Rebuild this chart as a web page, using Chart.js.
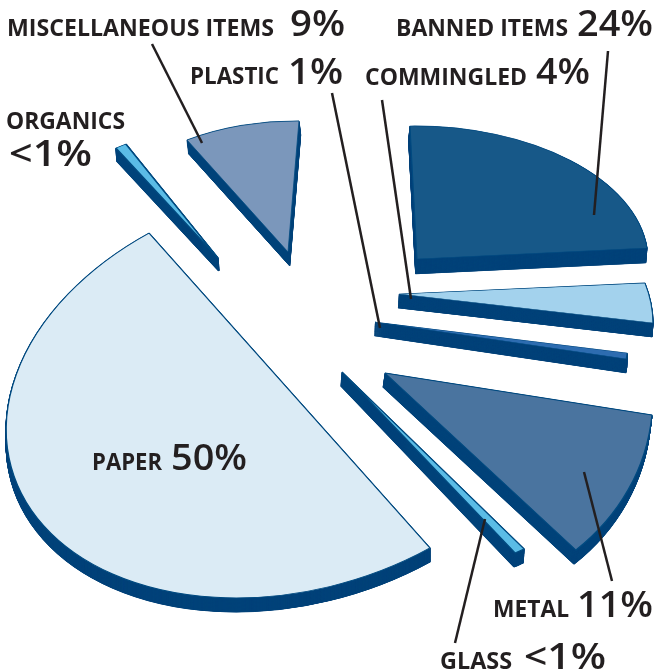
<!DOCTYPE html>
<html>
<head>
<meta charset="utf-8">
<script src="https://cdn.jsdelivr.net/npm/chart.js@4"></script>
<style>
	html, body { margin: 0; padding: 0; background: #fff; }
	canvas { display: block; }
</style>
</head>
<body>
<canvas id="myPie" width="656" height="672"></canvas>
<script>
// clockwise from the top, <1% slices read as 0.5
var categories = ['BANNED ITEMS', 'COMMINGLED', 'PLASTIC', 'METAL', 'GLASS', 'PAPER', 'ORGANICS', 'MISCELLANEOUS ITEMS'];
var values = [24, 4, 1, 11, 0.5, 50, 0.5, 9];
var percentLabels = ['24%', '4%', '1%', '11%', '<1%', '50%', '<1%', '9%'];
var topColors = ['#175888', '#a3d2ed', '#2d6cb0', '#4a749f', '#5bbce6', '#dbebf5', '#5bbce6', '#7b97bb'];
var sideColor = '#00437a';
var edgeColor = '#004a80';

// where each exploded slice sits on the page: apex x, apex y, then the
// 2x2 tilt/perspective matrix for a unit circle
var sliceViews = [
	[417, 259, 229.8, 23.9, -12.4, 132.5],
	[399, 294, 245.3, 65.8, -12.7, 159.4],
	[375, 322, 245.7, 57.2, 5, 101.3],
	[385, 373, 260.4, 63.2, -32.6, 228.5],
	[342, 372, 337, 5.4, -17.4, 219],
	[289.5, 390.5, 283.3, -1.3, -38.2, 203.9],
	[218, 258, 325.7, -70.2, -56.8, 159.7],
	[288, 252, 206.1, 4.1, -7, 130.9]
];
// wall of each slice: x drift, height
var sliceDepths = [[-1.3, 15], [-1, 14], [-0.5, 14], [-2, 14], [-1, 14], [0, 14], [1, 13], [1.7, 14]];

// name x, name right edge, name baseline, percent x, percent right edge, percent baseline
var labelBoxes = [
	[396, 568, 36, 577, 653, 36],
	[365, 527, 85, 536, 590, 84],
	[190, 279, 84, 288, 343, 84],
	[493, 569, 617, 577, 653, 617],
	[440, 512, 669, 524, 606, 669],
	[92, 162, 470, 171, 247, 470],
	[6, 125, 129, 9, 92, 166],
	[7, 274, 36, 290, 345, 36]
];
var leaderLines = [
	[608, 51, 594, 215],
	[382, 100, 411, 299],
	[332, 93, 380, 328],
	[584, 472, 612, 581],
	[485, 519, 455, 643],
	[152, 44, 202, 143]
];

function drawSlice(ctx, arc, view, dx, dy, fill, stroke) {
	var R = arc.outerRadius;
	var saved = arc.options;
	ctx.save();
	ctx.translate(view[0] + dx, view[1] + dy);
	ctx.transform(view[2] / R, view[4] / R, view[3] / R, view[5] / R, 0, 0);
	ctx.translate(-arc.x, -arc.y);
	arc.options = Object.assign({}, saved, { backgroundColor: fill, borderColor: stroke });
	arc.draw(ctx);
	arc.options = saved;
	ctx.restore();
}

function fitText(ctx, text, x, right, y, font) {
	ctx.save();
	ctx.font = font;
	var w = ctx.measureText(text).width;
	ctx.translate(x, y);
	ctx.scale((right - x) / w, 1);
	ctx.fillText(text, 0, 0);
	ctx.restore();
}

var explodedPie = {
	id: 'explodedPie',
	beforeDatasetDraw: function(chart) {
		var ctx = chart.ctx;
		var arcs = chart.getDatasetMeta(0).data;
		for (var i = 0; i < arcs.length; i++) {
			var depth = sliceDepths[i];
			for (var d = 1; d >= 0.015; d -= 0.015) {
				drawSlice(ctx, arcs[i], sliceViews[i], depth[0] * d, depth[1] * d, sideColor, sideColor);
			}
			drawSlice(ctx, arcs[i], sliceViews[i], 0, 0, topColors[i], edgeColor);
		}
		return false;
	},
	afterDatasetsDraw: function(chart) {
		var ctx = chart.ctx;
		ctx.save();
		ctx.strokeStyle = '#231f20';
		ctx.lineWidth = 2.5;
		for (var l = 0; l < leaderLines.length; l++) {
			ctx.beginPath();
			ctx.moveTo(leaderLines[l][0], leaderLines[l][1]);
			ctx.lineTo(leaderLines[l][2], leaderLines[l][3]);
			ctx.stroke();
		}
		ctx.fillStyle = '#231f20';
		ctx.textBaseline = 'alphabetic';
		for (var i = 0; i < categories.length; i++) {
			var b = labelBoxes[i];
			fitText(ctx, categories[i], b[0], b[1], b[2], '700 23px "Open Sans"');
			fitText(ctx, percentLabels[i], b[3], b[4], b[5], '600 36px "Open Sans"');
		}
		ctx.restore();
	}
};

var chart = new Chart(document.getElementById('myPie'), {
	type: 'pie',
	data: {
		labels: categories,
		datasets: [{ data: values, backgroundColor: topColors, borderColor: edgeColor, borderWidth: 1.5 }]
	},
	options: {
		responsive: false,
		animation: false,
		rotation: 4.2,
		plugins: { legend: { display: false }, tooltip: { enabled: false } }
	},
	plugins: [explodedPie]
});
</script>
</body>
</html>
